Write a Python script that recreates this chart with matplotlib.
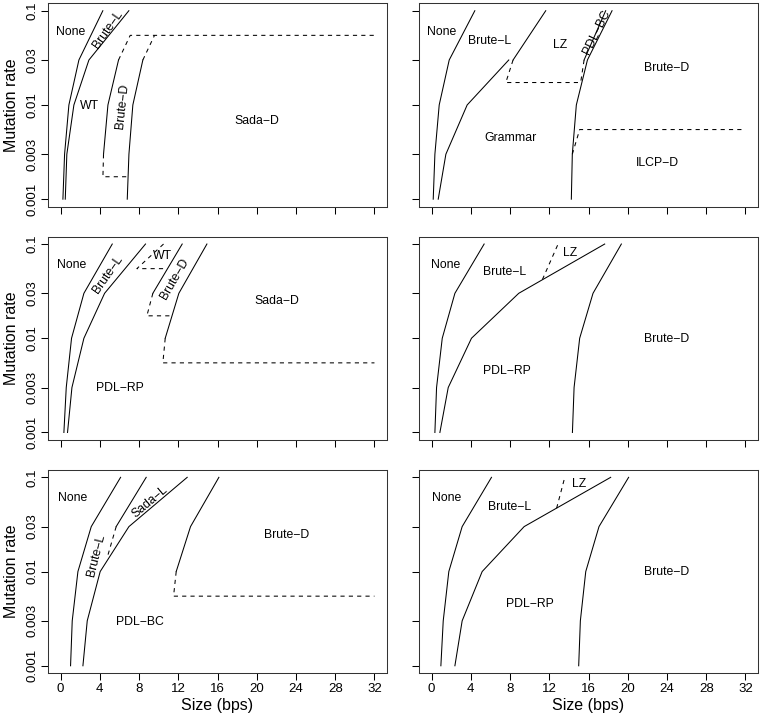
import matplotlib
matplotlib.use("Agg")
import matplotlib.pyplot as plt

plt.rcParams["font.family"] = ["Liberation Sans", "DejaVu Sans"]

# mutation rates on the grid and the geometric midpoints between them
RATES = [0.001, 0.003, 0.01, 0.03, 0.1]
M1, M2, M3, M4 = 0.00173, 0.00548, 0.0173, 0.0548
RATE_LABELS = ["0.001", "0.003", "0.01", "0.03", "0.1"]
SIZE_TICKS = [0, 4, 8, 12, 16, 20, 24, 28, 32]

# ---- panel 1 (top left) ----
p1_none = [0.24, 0.41, 0.85, 1.87, 4.31]
p1_brute_l = [0.48, 0.64, 1.36, 2.89, 6.96]
p1_brute_d_left = [4.38, 4.83, 5.91]          # at 0.003, 0.01, 0.03
p1_brute_d_right = [6.80, 6.97, 7.37, 8.39]   # at 0.001 .. 0.03

# ---- panel 2 (top right) ----
p2_none = [0.17, 0.34, 0.78, 1.80, 4.41]
p2_grammar = [0.68, 1.46, 3.63, 7.87]         # at 0.001 .. 0.03
p2_lz = [8.31, 11.64]                         # at 0.03, 0.1
p2_brute_d = [14.25, 14.35, 14.76, 15.89, 18.40]
p2_pdl_bc = [15.55, 17.75]                    # at 0.03, 0.1

# ---- panel 3 (middle left) ----
p3_none = [0.34, 0.58, 1.12, 2.38, 5.27]
p3_brute_l = [0.71, 1.16, 2.38, 4.49, 8.66]
p3_brute_d_left = [9.41, 12.40]               # at 0.03, 0.1
p3_brute_d_right = [10.67, 12.06, 14.92]      # at 0.01, 0.03, 0.1

# ---- panel 4 (middle right) ----
p4_none = [0.34, 0.51, 1.09, 2.38, 5.36]
p4_pdl_rp = [0.85, 1.70, 4.07, 8.89, 17.65]
p4_brute_d = [14.36, 14.53, 15.10, 16.46, 19.35]

# ---- panel 5 (bottom left) ----
p5_none = [1.02, 1.19, 1.77, 3.13, 6.12]
p5_pdl_bc = [2.28, 2.72, 4.04, 6.97, 12.91]
p5_sada_l = [5.67, 8.73]                      # at 0.03, 0.1
p5_brute_d = [11.79, 13.25, 16.14]            # at 0.01, 0.03, 0.1

# ---- panel 6 (bottom right) ----
p6_none = [0.95, 1.19, 1.76, 3.12, 6.11]
p6_pdl_rp = [2.38, 3.12, 5.16, 9.44, 18.26]
p6_brute_d = [15.00, 15.17, 15.72, 17.07, 20.09]

# (x, y, dashed)
SEGMENTS = [
    [
        (p1_none, RATES, False),
        (p1_brute_l, RATES, False),
        (p1_brute_d_left, RATES[1:4], False),
        (p1_brute_d_right, RATES[0:4], False),
        ([4.38, 4.32, 6.85], [0.003, M1, M1], True),
        ([5.91, 7.10, 32.0], [0.03, M4, M4], True),
        ([8.39, 9.58], [0.03, M4], True),
    ],
    [
        (p2_none, RATES, False),
        (p2_grammar, RATES[0:4], False),
        (p2_lz, RATES[3:5], False),
        (p2_brute_d, RATES, False),
        (p2_pdl_bc, RATES[3:5], False),
        ([8.31, 7.57, 15.20], [0.03, M3, M3], True),
        ([15.55, 15.20], [0.03, M3], True),
        ([14.35, 15.10, 32.0], [0.003, M2, M2], True),
    ],
    [
        (p3_none, RATES, False),
        (p3_brute_l, RATES, False),
        (p3_brute_d_left, RATES[3:5], False),
        (p3_brute_d_right, RATES[2:5], False),
        ([10.50, 7.78, 10.85], [0.1, M4, M4], True),
        ([9.41, 8.80, 11.28], [0.03, M3, M3], True),
        ([10.67, 10.43, 32.0], [0.01, M2, M2], True),
    ],
    [
        (p4_none, RATES, False),
        (p4_pdl_rp, RATES, False),
        (p4_brute_d, RATES, False),
        ([11.30, 12.90], [0.042, 0.1], True),
    ],
    [
        (p5_none, RATES, False),
        (p5_pdl_bc, RATES, False),
        (p5_sada_l, RATES[3:5], False),
        (p5_brute_d, RATES[2:5], False),
        ([5.67, 4.75], [0.03, 0.014], True),
        ([11.79, 11.52, 32.0], [0.01, M2, M2], True),
    ],
    [
        (p6_none, RATES, False),
        (p6_pdl_rp, RATES, False),
        (p6_brute_d, RATES, False),
        ([12.75, 13.58], [0.047, 0.1], True),
    ],
]

# (text, x, y, rotation)
LABELS = [
    [("None", 0.99, 0.059, 0), ("Brute\u2212L", 4.83, 0.0624, 55),
     ("WT", 2.96, 0.0098, 0), ("Brute\u2212D", 6.35, 0.0098, 84),
     ("Sada\u2212D", 20.05, 0.00682, 0)],
    [("None", 1.02, 0.059, 0), ("Brute\u2212L", 5.94, 0.0481, 0),
     ("LZ", 13.07, 0.0433, 0), ("PDL\u2212BC", 16.8, 0.0599, 64),
     ("Brute\u2212D", 23.93, 0.0245, 0), ("Grammar", 8.04, 0.00444, 0),
     ("ILCP\u2212D", 23.0, 0.00244, 0)],
    [("None", 1.16, 0.0593, 0), ("Brute\u2212L", 4.83, 0.0472, 55),
     ("WT", 10.36, 0.0752, 0), ("Brute\u2212D", 11.62, 0.0425, 60),
     ("Sada\u2212D", 22.05, 0.0251, 0), ("PDL\u2212RP", 6.01, 0.00297, 0)],
    [("None", 1.46, 0.0593, 0), ("Brute\u2212L", 7.47, 0.05, 0),
     ("LZ", 14.09, 0.0802, 0), ("Brute\u2212D", 23.93, 0.00984, 0),
     ("PDL\u2212RP", 7.64, 0.00446, 0)],
    [("None", 1.26, 0.0599, 0), ("Sada\u2212L", 9.07, 0.0551, 40),
     ("Brute\u2212L", 3.64, 0.015, 76), ("Brute\u2212D", 23.0, 0.0244, 0),
     ("PDL\u2212BC", 8.05, 0.00294, 0)],
    [("None", 1.53, 0.0599, 0), ("Brute\u2212L", 7.98, 0.0488, 0),
     ("LZ", 15.0, 0.0843, 0), ("Brute\u2212D", 23.93, 0.0098, 0),
     ("PDL\u2212RP", 10.01, 0.0045, 0)],
]

W, H = 760, 724
fig = plt.figure(figsize=(W / 100, H / 100), dpi=100)

col_x = [48 / W, 419 / W]
row_y = [1 - 206.7 / H, 1 - 440 / H, 1 - 673.3 / H]
aw, ah = 339 / W, 203.5 / H

for i in range(6):
    r, c = divmod(i, 2)
    ax = fig.add_axes([col_x[c], row_y[r], aw, ah])
    for xs, ys, dashed in SEGMENTS[i]:
        ax.plot(xs, ys, color="black", lw=0.75,
                ls=(0, (4, 4)) if dashed else "-")
    for txt, x, y, rot in LABELS[i]:
        ax.text(x, y, txt, fontsize=8.8, rotation=rot, ha="center", va="center",
                rotation_mode="anchor")

    ax.set_yscale("log")
    ax.set_xlim(-1.28, 33.28)
    ax.set_ylim(10 ** -3.08, 10 ** -0.92)
    ax.minorticks_off()
    ax.set_yticks(RATES)
    ax.set_xticks(SIZE_TICKS)
    ax.tick_params(direction="out", length=5, width=0.75, labelsize=9.5, pad=2)
    for s in ax.spines.values():
        s.set_linewidth(0.75)
        s.set_color("#333333")

    if c == 0:
        ax.set_yticklabels(RATE_LABELS, rotation=90, va="center")
        ax.set_ylabel("Mutation rate", fontsize=11.5, labelpad=5)
    else:
        ax.set_yticklabels([])
    if r == 2:
        ax.set_xticklabels([str(t) for t in SIZE_TICKS])
        ax.set_xlabel("Size (bps)", fontsize=11.5, labelpad=2)
    else:
        ax.set_xticklabels([])

fig.savefig("out.png", dpi=100)
